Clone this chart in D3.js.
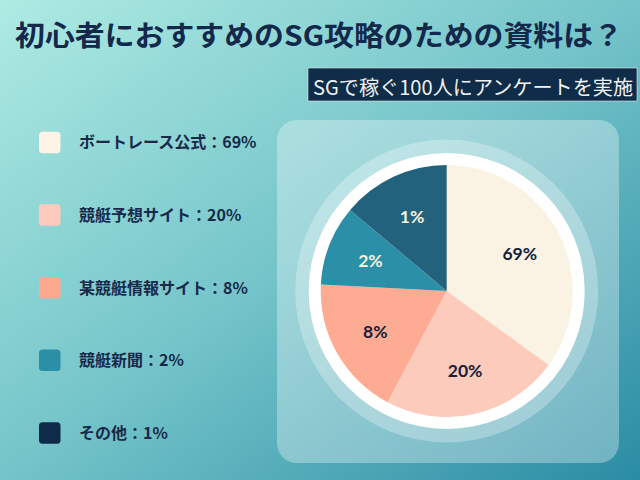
<!DOCTYPE html>
<html><head><meta charset="utf-8">
<script src="https://cdn.jsdelivr.net/npm/d3@7"></script>
<style>html,body{margin:0;padding:0;background:#fff;}svg{display:block;}</style>
</head><body>
<svg id="chart" width="640" height="480"></svg>
<script>
// ---- data ----
const titleText = "初心者におすすめのSG攻略のための資料は？";
const subtitleText = "SGで稼ぐ100人にアンケートを実施";
const categories = ["ボートレース公式", "競艇予想サイト", "某競艇情報サイト", "競艇新聞", "その他"];
const percents = [69, 20, 8, 2, 1];
const drawnShares = [126, 82, 65, 37, 50];
const sliceColors = ["#faf2e3", "#fdcbbb", "#fdac93", "#2a8fa7", "#23627c"];
const legendColors = ["#fdf3e6", "#fdcbbe", "#fda98f", "#2a8fa7", "#0e2c4a"];
const labelColors = ["#14213d", "#14213d", "#14213d", "#f6f0dd", "#f6f0dd"];

const W = 640, H = 480;
const svg = d3.select("#chart");
const defs = svg.append("defs");
const bg = defs.append("linearGradient").attr("id","bg")
  .attr("x1","0").attr("y1","0").attr("x2","1").attr("y2","1");
bg.append("stop").attr("offset","0%").attr("stop-color","#aeebe3");
bg.append("stop").attr("offset","50%").attr("stop-color","#74c4c9");
bg.append("stop").attr("offset","100%").attr("stop-color","#2a8ca4");
svg.append("rect").attr("width",W).attr("height",H).attr("fill","url(#bg)");

const font = "'Noto Sans CJK JP', 'Noto Sans', sans-serif";

// title
svg.append("text").attr("x",15).attr("y",46)
  .attr("font-family",font).attr("font-weight",700).attr("font-size",28)
  .attr("fill","#13284a").attr("textLength",608).attr("lengthAdjust","spacingAndGlyphs")
  .text(titleText);

// subtitle box
svg.append("rect").attr("x",308).attr("y",68).attr("width",329).attr("height",33)
  .attr("fill","#0f2c48").attr("stroke","#dfe9ea").attr("stroke-width",0.6);
svg.append("text").attr("x",313).attr("y",95)
  .attr("font-family",font).attr("font-size",20).attr("fill","#eef2f2")
  .attr("textLength",320).attr("lengthAdjust","spacingAndGlyphs")
  .text(subtitleText);

// legend
const legendY = d3.scalePoint().domain(categories).range([142.5, 433]);
const lg = svg.append("g");
categories.forEach((c,i)=>{
  const y = legendY(c);
  lg.append("rect").attr("x",39).attr("y",y-10.8).attr("width",21.5).attr("height",21.5)
    .attr("rx",3.5).attr("fill",legendColors[i]);
  lg.append("text").attr("x",79).attr("y",y).attr("dy","0.36em")
    .attr("font-family",font).attr("font-weight",700).attr("font-size",16)
    .attr("fill","#18294a")
    .text(c + "：" + percents[i] + "%");
});

// panel
svg.append("rect").attr("x",277).attr("y",120).attr("width",342).attr("height",343)
  .attr("rx",20).attr("fill","rgba(255,255,255,0.32)");

const cx = 446.7, cy = 291, r = 126;
const g = svg.append("g").attr("transform",`translate(${cx},${cy})`);
g.append("circle").attr("r",151.5).attr("fill","rgba(255,255,255,0.28)");
g.append("circle").attr("r",138).attr("fill","#ffffff");

const pie = d3.pie().sort(null).value((d,i)=>drawnShares[i]);
const arcs = pie(percents);
const arc = d3.arc().innerRadius(0).outerRadius(r);
const labelArc = d3.arc().innerRadius(82).outerRadius(82);
g.selectAll("path.slice").data(arcs).join("path").attr("class","slice")
  .attr("d",arc).attr("fill",(d,i)=>sliceColors[i]);
g.selectAll("text.lbl").data(arcs).join("text").attr("class","lbl")
  .attr("transform",d=>`translate(${labelArc.centroid(d)})`)
  .attr("text-anchor","middle").attr("dy","0.36em")
  .attr("font-family","Lato, 'Noto Sans', sans-serif").attr("font-weight",700).attr("font-size",17.5)
  .attr("fill",(d,i)=>labelColors[i])
  .text(d=>d.data + "%");
</script>
</body></html>
